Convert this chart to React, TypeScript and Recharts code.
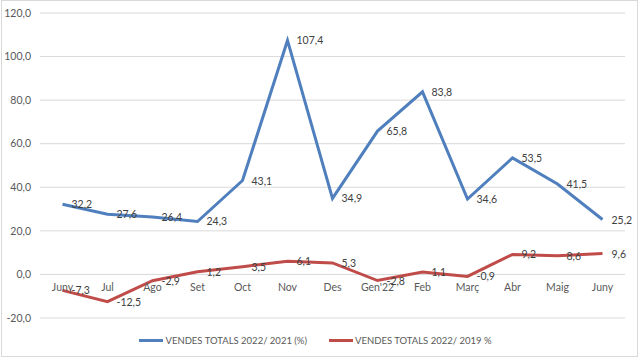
import React from "react";
import { LineChart, Line, XAxis, YAxis, CartesianGrid, Legend, LabelList } from "recharts";

const months = ["Juny", "Jul", "Ago", "Set", "Oct", "Nov", "Des", "Gen'22", "Feb", "Març", "Abr", "Maig", "Juny"];
const vendes2021 = [32.2, 27.6, 26.4, 24.3, 43.1, 107.4, 34.9, 65.8, 83.8, 34.6, 53.5, 41.5, 25.2];
const vendes2019 = [-7.3, -12.5, -2.9, 1.2, 3.5, 6.1, 5.3, -2.8, 1.1, -0.9, 9.2, 8.6, 9.6];
const yTicks = [-20, 0, 20, 40, 60, 80, 100, 120];
const seriesNames = ["VENDES TOTALS 2022/ 2021 (%)", "VENDES TOTALS 2022/ 2019 %"];

const data = months.map((m, i) => ({ idx: i, month: m, a: vendes2021[i], b: vendes2019[i] }));

const W = 640;
const H = 359;
const M = { top: 13, right: 15, left: 6, bottom: 11 };
const XAXIS_H = 14;
const LEGEND_H = 16;
const Y_MIN = -20;
const Y_MAX = 120;
const PLOT_H = H - M.top - M.bottom - XAXIS_H - LEGEND_H;
const PLOT_W = W - M.left - M.right - 34;
const HALF_BAND = PLOT_W / months.length / 2;

const BLUE = "#4f7fbd";
const RED = "#bf4c49";
const FONT = "Lato, 'Liberation Sans', Arial, sans-serif";
const FS = 10.5;
const fmt = (v: number) => v.toFixed(1).replace(".", ",");

const XTick = (props: any) => {
  const { x, y, payload } = props;
  const plotBottom = M.top + PLOT_H;
  const zeroY = M.top + (PLOT_H * (Y_MAX - 0)) / (Y_MAX - Y_MIN);
  const shift = plotBottom - zeroY;
  return (
    <text x={x} y={y - shift + 9} textAnchor="middle" fontSize={FS} fill="#595959" fontFamily={FONT}>
      {months[payload.value]}
    </text>
  );
};

const RightLabel = (props: any) => {
  const { x, y, value } = props;
  return (
    <text x={x + 9} y={y + 4} textAnchor="start" fontSize={FS} fill="#404040" fontFamily={FONT}>
      {fmt(value)}
    </text>
  );
};

const LegendContent = () => (
  <div style={{ display: "flex", justifyContent: "center", alignItems: "center", fontFamily: FONT, fontSize: 9.5, color: "#595959", height: LEGEND_H }}>
    {[BLUE, RED].map((c, i) => (
      <div key={i} style={{ display: "flex", alignItems: "center", marginRight: i === 0 ? 22 : 0 }}>
        <span style={{ display: "inline-block", width: 24, height: 3, background: c, marginRight: 2 }} />
        <span>{seriesNames[i]}</span>
      </div>
    ))}
  </div>
);

export default function App() {
  return (
    <div style={{ position: "absolute", left: 0, top: 0, width: W, height: H, background: "#fff" }}>
      <div style={{ position: "absolute", left: 1, top: 0, width: W - 3, height: H - 2, border: "1px solid #d9d9d9", boxSizing: "border-box" }} />
      <LineChart width={W} height={H} data={data} margin={M}>
        <CartesianGrid vertical={false} stroke="#d9d9d9" strokeWidth={1} />
        <XAxis
          dataKey="idx"
          type="category"
          height={XAXIS_H}
          axisLine={false}
          tickLine={false}
          tick={<XTick />}
          interval={0}
          padding={{ left: HALF_BAND, right: HALF_BAND }}
        />
        <YAxis
          domain={[Y_MIN, Y_MAX]}
          ticks={yTicks}
          width={34}
          axisLine={false}
          tickLine={false}
          tickSize={0}
          tickMargin={9}
          tickFormatter={fmt}
          tick={{ fontSize: FS, fill: "#595959", fontFamily: FONT }}
        />
        <Legend verticalAlign="bottom" height={LEGEND_H} content={<LegendContent />} />
        <Line dataKey="a" name={seriesNames[0]} stroke={BLUE} strokeWidth={3} dot={false} isAnimationActive={false}>
          <LabelList dataKey="a" content={<RightLabel />} />
        </Line>
        <Line dataKey="b" name={seriesNames[1]} stroke={RED} strokeWidth={3} dot={false} isAnimationActive={false}>
          <LabelList dataKey="b" content={<RightLabel />} />
        </Line>
      </LineChart>
    </div>
  );
}
